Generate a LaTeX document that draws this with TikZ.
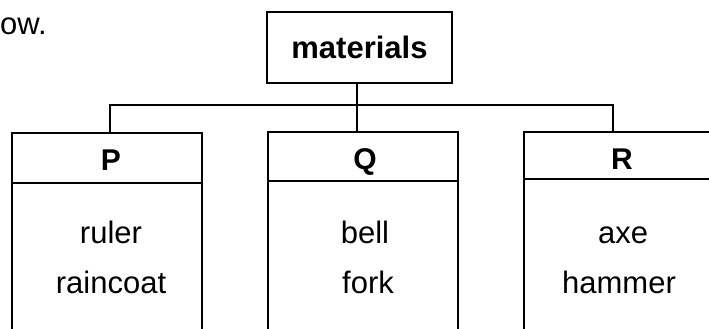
\documentclass[tikz,border=0pt]{standalone}
\usepackage{fontspec}
\setmainfont{Liberation Sans}
\begin{document}
\begin{tikzpicture}[x=1pt,y=-1pt,
  frame/.style={draw=black,line width=1.5pt},
  wire/.style={draw=black,line width=1.5pt},
  big/.style={font=\fontsize{31}{37}\selectfont},
  head/.style={font=\fontsize{30}{36}\selectfont\bfseries,anchor=base},
  item/.style={font=\fontsize{31}{37}\selectfont,anchor=base}]
\useasboundingbox (0,0) rectangle (709,329);
\clip (0,0) rectangle (709,329);

% fragment of the sentence above
\node[big,anchor=base west,inner sep=0] (tail) at (0,35) {ow.};

% top box
\node[frame,minimum width=185,minimum height=71,inner sep=0,
      font=\fontsize{31}{37}\selectfont\bfseries] (mat) at (359.5,47.5) {materials};

% three category columns (open at the bottom)
\node[frame,minimum width=190,minimum height=230,inner sep=0] (P) at (107,248) {};
\node[frame,minimum width=190,minimum height=230,inner sep=0] (Q) at (363,247) {};
\node[frame,minimum width=220,minimum height=230,inner sep=0] (R) at (634,247) {};

\draw[wire] (P.west |- 0,183) -- (P.east |- 0,183);
\draw[wire] (Q.west |- 0,181) -- (Q.east |- 0,181);
\draw[wire] (R.west |- 0,179) -- (R.east |- 0,179);

% headers
\node[head] (hP) at (111,170) {P};
\node[head] (hQ) at (365,169) {Q};
\node[head] (hR) at (622,169) {R};

% items
\node[item] (p1) at (111,243) {ruler};
\node[item] (p2) at (111,293) {raincoat};
\node[item] (q1) at (365,243) {bell};
\node[item] (q2) at (368,293) {fork};
\node[item] (r1) at (623,243) {axe};
\node[item] (r2) at (619,293) {hammer};

% tree connectors
\coordinate (tP) at (110,133);
\coordinate (tQ) at (357,132);
\coordinate (tR) at (613,132);
\coordinate (hub) at (357,105);
\draw[wire] (mat.south -| tQ) -- (tQ);
\draw[wire] (tP) -- (tP |- hub) -- (tR |- hub) -- (tR);
\end{tikzpicture}
\end{document}
